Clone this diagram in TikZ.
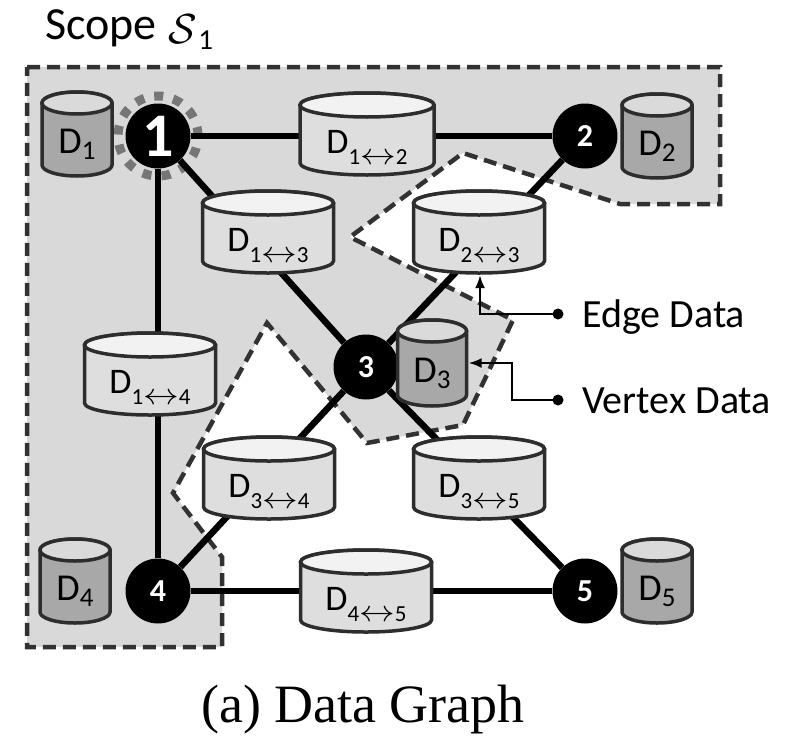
\RequirePackage{fix-cm}
\documentclass[tikz,border=0pt]{standalone}
\usepackage{fontspec}
\setmainfont{Carlito}
\newfontfamily\capfont{Liberation Serif}
\usepackage{graphicx}
\usetikzlibrary{arrows.meta,calc}
\definecolor{regfill}{RGB}{217,217,217}
\definecolor{regline}{RGB}{50,50,50}
\definecolor{cylline}{RGB}{45,45,45}
\definecolor{ebody}{RGB}{222,222,222}
\definecolor{etop}{RGB}{242,242,242}
\definecolor{vbody}{RGB}{168,168,168}
\definecolor{vtop}{RGB}{218,218,218}
\definecolor{halocol}{RGB}{118,118,118}
\newcommand{\fs}[1]{\fontsize{#1}{#1}\selectfont}
\newcommand{\elab}[2]{{\fs{36}D}{\fs{23}\raisebox{-11pt}{#1\scalebox{1.55}[1.3]{$\leftrightarrow$}#2}}}
\newcommand{\vlab}[1]{{\fs{38}D}{\fs{27}\raisebox{-6pt}{#1}}}
% #1 name, #2 cx, #3 cy (pixels, y down), #4 w, #5 h, #6 body, #7 top, #8 ry, #9 label
\newcommand{\dcyl}[9]{%
 \begin{scope}[shift={(#2,-#3)}]
  \path[fill=#6, draw=cylline, line width=3.5] (-#4/2,#5/2-#8) -- (-#4/2,-#5/2+#8)
     arc[start angle=180,end angle=360,x radius=#4/2,y radius=#8] -- (#4/2,#5/2-#8)
     arc[start angle=0,end angle=180,x radius=#4/2,y radius=#8] -- cycle;
  \path[fill=#7, draw=cylline, line width=3.5] (0,#5/2-#8) ellipse[x radius=#4/2,y radius=#8];
  \node[inner sep=0, minimum width=#4pt, minimum height=#5pt] (#1) at (0,0) {};
  \node[inner sep=0, anchor=base] (#1-l) at (0,-19) {#9};
 \end{scope}}
\tikzset{
  region/.style={fill=regfill, draw=regline, line width=4.5, dash pattern=on 13pt off 7pt},
  vert/.style={circle, fill=black, minimum size=65pt, inner sep=0, text=white, font=\fs{32}\bfseries},
  gedge/.style={line width=6.5, draw=black},
  annot/.style={line width=2, draw=black},
  tip/.style={-{Latex[length=13pt,width=10pt]}},
  halo/.style={draw=halocol, line width=9, dash pattern=on 9pt off 10.2pt},
  lbl/.style={font=\fs{40}, inner sep=0}
}
\begin{document}
\begin{tikzpicture}[x=1pt,y=1pt]
\useasboundingbox (0,0) rectangle (810,-736);
% scope region
\draw[region] (27,-67) -- (720,-67) -- (720,-204) -- (620,-204) -- (463,-153) -- (350,-237)
  -- (513,-320) -- (463,-425) -- (367,-443) -- (267,-323) -- (173,-493) -- (222,-557)
  -- (222,-647) -- (27,-647) -- cycle;
\node[font=\fs{46}, anchor=base west, inner sep=0] (scope) at (45,-39)
  {Scope\hspace{12pt}\raisebox{-4pt}{\fs{42}$\mathcal{S}$}\hspace{1pt}\raisebox{-10pt}{\fs{29}1}};
% halo
\draw[halo] (158,-136) circle[radius=40];
% vertices
\node[vert, font=\fs{62}\bfseries] (n1) at (158,-136) {1};
\node[vert] (n2) at (585,-136) {2};
\node[vert] (n3) at (366,-367) {3};
\node[vert] (n4) at (158,-591) {4};
\node[vert] (n5) at (585,-591) {5};
% edges
\draw[gedge] (n1) -- (n2);
\draw[gedge] (n1) -- (n3);
\draw[gedge] (n2) -- (n3);
\draw[gedge] (n1) -- (n4);
\draw[gedge] (n3) -- (n4);
\draw[gedge] (n3) -- (n5);
\draw[gedge] (n4) -- (n5);
% edge data
\dcyl{e12}{367}{134}{134}{82}{ebody}{etop}{12}{\elab{1}{2}}
\dcyl{e13}{268}{232}{131}{82}{ebody}{etop}{12}{\elab{1}{3}}
\dcyl{e23}{479}{232}{131}{82}{ebody}{etop}{12}{\elab{2}{3}}
\dcyl{e14}{150}{374}{131}{82}{ebody}{etop}{12}{\elab{1}{4}}
\dcyl{e34}{269}{478}{131}{82}{ebody}{etop}{12}{\elab{3}{4}}
\dcyl{e35}{479}{478}{131}{82}{ebody}{etop}{12}{\elab{3}{5}}
\dcyl{e45}{366}{591}{131}{82}{ebody}{etop}{12}{\elab{4}{5}}
% vertex data
\dcyl{d1}{77}{134}{70}{84}{vbody}{vtop}{11}{\vlab{1}}
\dcyl{d2}{657}{136}{70}{84}{vbody}{vtop}{11}{\vlab{2}}
\dcyl{d3}{432}{363}{69}{86}{vbody}{vtop}{11}{\vlab{3}}
\dcyl{d4}{75}{581}{70}{84}{vbody}{vtop}{11}{\vlab{4}}
\dcyl{d5}{657}{581}{70}{84}{vbody}{vtop}{11}{\vlab{5}}
% annotations
\coordinate (edot) at (558,-314);
\coordinate (vdot) at (558,-400);
\fill (edot) circle[radius=5.5];
\fill (vdot) circle[radius=5.5];
\draw[annot, tip] (edot) -| ($(e23.south)+(1,-2)$);
\draw[annot, tip] (vdot) -| ($(d3.east)+(45,0)$) -- ($(d3.east)+(2,0)$);
\node[lbl, anchor=base west] (edlab) at (582,-327) {Edge Data};
\node[lbl, anchor=base west] (vdlab) at (582,-413) {Vertex Data};
% caption
\node[font=\capfont\fs{54}, anchor=base, inner sep=0] (cap) at (363,-722) {(a) Data Graph};
\end{tikzpicture}
\end{document}
